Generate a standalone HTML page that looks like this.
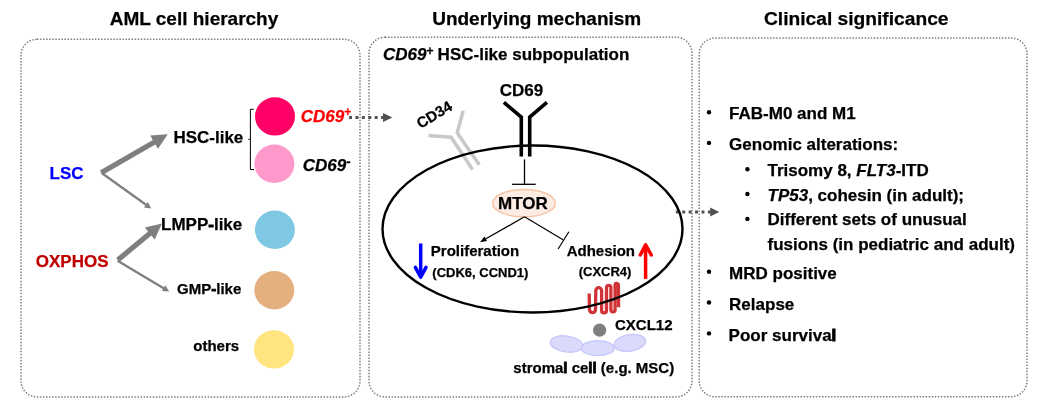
<!DOCTYPE html>
<html><head><meta charset="utf-8">
<style>
html,body{margin:0;padding:0;background:#fff;}
svg{display:block;will-change:transform;}
text{font-family:"Liberation Sans",Arial,sans-serif;font-weight:bold;fill:#000;stroke:#000;stroke-width:0.25px;}
.it{font-style:italic;}
</style></head>
<body>
<svg width="1058" height="405" viewBox="0 0 1058 405">
<!-- titles -->
<text x="109.7" y="25" font-size="19">AML cell hierarchy</text>
<text x="432.2" y="24.7" font-size="19">Underlying mechanism</text>
<text x="764" y="24.8" font-size="19.2">Clinical significance</text>

<!-- dotted boxes -->
<g fill="none" stroke="#7f7f7f" stroke-width="1.5" stroke-dasharray="1.5 1.55">
<rect x="21" y="39.3" width="339" height="357.6" rx="16" ry="16"/>
<rect x="369" y="37.2" width="323" height="359.7" rx="16" ry="16"/>
<rect x="699.2" y="38" width="327.8" height="358.8" rx="16" ry="16"/>
</g>

<!-- LEFT PANEL -->
<g fill="#7f7f7f">
<polygon points="102.5,175.0 155.4,144.4 158.0,148.8 167.8,134.2 150.2,135.4 152.8,139.9 99.9,170.6"/>
<polygon points="119.5,262.0 151.4,235.5 154.7,239.5 161.9,223.4 144.8,227.5 148.1,231.5 116.1,258.0"/>
</g>
<g stroke="#7f7f7f" stroke-width="2.3" fill="none">
<line x1="101.7" y1="173" x2="146" y2="204.8"/>
<line x1="117.6" y1="260.8" x2="164" y2="288.5"/>
</g>
<g fill="#7f7f7f">
<polygon points="144.0,207.4 151.2,208.5 147.9,202.0"/>
<polygon points="161.9,290.9 169.2,291.4 165.3,285.2"/>
</g>

<text x="49.6" y="179" font-size="17" style="fill:#0000ff;stroke:#0000ff">LSC</text>
<text x="35.8" y="266.9" font-size="17" style="fill:#c00000;stroke:#c00000">OXPHOS</text>
<text x="173.4" y="142.7" font-size="17">HSC-like</text>
<text x="161" y="229.8" font-size="17">LMPP<tspan style="stroke-width:0.8px">-</tspan>like</text>
<text x="177.1" y="293.6" font-size="15">GMP<tspan style="stroke-width:0.8px">-</tspan>like</text>
<text x="193.3" y="351.3" font-size="15">others</text>

<path d="M253.8 109.3 H250.4 V169.5 H254 M250.4 139.3 H248.4" stroke="#000" stroke-width="1" fill="none"/>

<ellipse cx="275" cy="116.4" rx="20" ry="19.2" fill="#ff0066"/>
<ellipse cx="274.4" cy="163.8" rx="20" ry="19.2" fill="#ff99cc"/>
<ellipse cx="274.9" cy="229.8" rx="20" ry="19.2" fill="#7ec8e3"/>
<ellipse cx="274.3" cy="290.2" rx="20" ry="19.2" fill="#e5b07f"/>
<ellipse cx="274" cy="349.4" rx="20" ry="19.2" fill="#ffe47f"/>

<text x="300.7" y="121.5" font-size="17" class="it" style="fill:#ff0000;stroke:#ff0000">CD69<tspan font-size="12" dy="-5.6" font-style="normal">+</tspan></text>
<text x="302.7" y="170.8" font-size="17" class="it">CD69<tspan font-size="13" dy="-4.5" font-style="normal">-</tspan></text>

<!-- dotted arrows -->
<g stroke="#505050" stroke-width="3" stroke-dasharray="2.9 3.5" fill="none">
<line x1="349.1" y1="117.6" x2="384" y2="117.6"/>
<line x1="675.9" y1="212" x2="711" y2="212"/>
</g>
<g fill="#505050">
<polygon points="383,113.1 392.3,117.6 383,122.1"/>
<polygon points="710.2,207.5 719.3,212 710.2,216.5"/>
</g>

<!-- MIDDLE PANEL -->
<text x="383" y="59.8" font-size="17"><tspan class="it">CD69</tspan><tspan font-size="12" dy="-4.4">+</tspan><tspan dy="4.4" dx="-0.6"> HSC-like subpopulation</tspan></text>

<text x="499.7" y="95.8" font-size="17">CD69</text>

<!-- CD34 antibody -->
<g stroke="#c8c8c8" stroke-width="3.5" fill="none" stroke-linecap="butt">
<polyline points="463.2,110.7 457.2,132.8 479.3,164.8"/>
<polyline points="428.6,135.4 451.1,137.2 472.5,169.5"/>
</g>
<text font-size="15" transform="translate(420.5,129) rotate(-31)">CD34</text>

<!-- CXCR4 coil (under membrane) -->
<path d="M589.2 293.5 L589.5 309.6 A3 3 0 0 0 595.5 309.6 L595.8 290.6 A2.9 2.9 0 0 1 601.6 290.6 L601.6 310.4 A2.45 2.45 0 0 0 606.5 310.4 L606.5 287.6 A2.2 2.2 0 0 1 610.9 287.6 L610.9 309.8 A2.1 2.1 0 0 0 615.1 309.8 L615.1 285 A1.65 1.65 0 0 1 618.4 285 L618.6 307.3" stroke="#d13438" stroke-width="3.3" fill="none" stroke-linecap="butt"/>

<!-- cell membrane -->
<ellipse cx="532.5" cy="229" rx="150" ry="83.5" fill="none" stroke="#000" stroke-width="2.4"/>

<!-- CD69 antibody -->
<g stroke="#000" stroke-width="3.6" fill="none" stroke-linejoin="miter">
<polyline points="503.9,102.4 521.3,117.2 521.3,156.4"/>
<polyline points="546.9,102.4 529.7,117.2 529.7,156.4"/>
</g>
<g stroke="#000" stroke-width="1.3" fill="none">
<line x1="524.5" y1="159.4" x2="524.5" y2="184.3"/>
<line x1="512" y1="184.3" x2="535.7" y2="184.3"/>
</g>

<ellipse cx="524" cy="203.2" rx="31.3" ry="13.7" fill="#fdece4" stroke="#f7c6a6" stroke-width="1.6"/>
<text x="498" y="208.6" font-size="17">MTOR</text>

<g stroke="#000" stroke-width="1.2" fill="none">
<line x1="524.5" y1="216.8" x2="482" y2="241"/>
<line x1="524.5" y1="216.8" x2="563" y2="239.8"/>
<line x1="558.1" y1="249" x2="568.9" y2="231.7"/>
</g>
<polygon points="480,242.2 484.5,236.5 487,240.9" fill="#000"/>

<text x="430.8" y="255.6" font-size="15">Proliferation</text>
<text x="432.3" y="277.1" font-size="13">(CDK6, CCND1)</text>
<text x="566.7" y="255.8" font-size="15">Adhesion</text>
<text x="578.7" y="275.7" font-size="13">(CXCR4)</text>

<g stroke="#0000ff" stroke-width="3.5" fill="none" stroke-linecap="round" stroke-linejoin="round">
<line x1="420.7" y1="243.5" x2="420.7" y2="276" stroke-linecap="butt"/>
<polyline points="415.4,267.3 420.7,277.1 426,267.3"/>
</g>
<g stroke="#ff0000" stroke-width="3.5" fill="none" stroke-linecap="round" stroke-linejoin="round">
<line x1="645.6" y1="278.9" x2="645.6" y2="246" stroke-linecap="butt"/>
<polyline points="640.3,255 645.6,244.9 651.3,255"/>
</g>

<circle cx="599.6" cy="330.2" r="6.6" fill="#7f7f7f"/>
<text x="615" y="330.2" font-size="15">CXCL12</text>

<g fill="#dadafd" stroke="#c6c6fb" stroke-width="1.3">
<ellipse cx="566.5" cy="344" rx="16.4" ry="8" transform="rotate(8 566.5 344)"/>
<ellipse cx="597.8" cy="348.2" rx="16.3" ry="7.5"/>
<ellipse cx="629.8" cy="342.9" rx="16" ry="8.2" transform="rotate(-9 629.8 342.9)"/>
</g>
<text x="513.3" y="373" font-size="15">stroma<tspan style="stroke-width:0.8px">l</tspan> ce<tspan style="stroke-width:0.8px">l</tspan><tspan style="stroke-width:0.8px">l</tspan> (e.g. MSC)</text>

<!-- RIGHT PANEL -->
<g fill="#000">
<circle cx="709" cy="112.3" r="2.2"/>
<circle cx="709" cy="142.9" r="2.2"/>
<circle cx="747.4" cy="169.3" r="2.2"/>
<circle cx="747.4" cy="194" r="2.2"/>
<circle cx="747.4" cy="218.9" r="2.2"/>
<circle cx="709" cy="271.8" r="2.2"/>
<circle cx="709" cy="302.5" r="2.2"/>
<circle cx="709" cy="333.4" r="2.2"/>
</g>
<text x="729.1" y="118.8" font-size="17">FAB-M0 and M1</text>
<text x="729.1" y="150" font-size="17">Genomic alterations:</text>
<text x="767.5" y="175.8" font-size="17">Trisomy 8, <tspan class="it">FLT3</tspan>-ITD</text>
<text x="767.5" y="200.5" font-size="17"><tspan class="it">TP53</tspan>, cohesin (in adult);</text>
<text x="767.5" y="225.4" font-size="17">Different sets of unusual</text>
<text x="767.5" y="249.9" font-size="17">fusions (in pediatric and adult)</text>
<text x="729.1" y="279" font-size="17">MRD positive</text>
<text x="729.1" y="309.6" font-size="17">Relapse</text>
<text x="728.6" y="340.5" font-size="17">Poor surviva<tspan style="stroke-width:1.1px">l</tspan></text>
</svg>
</body></html>
